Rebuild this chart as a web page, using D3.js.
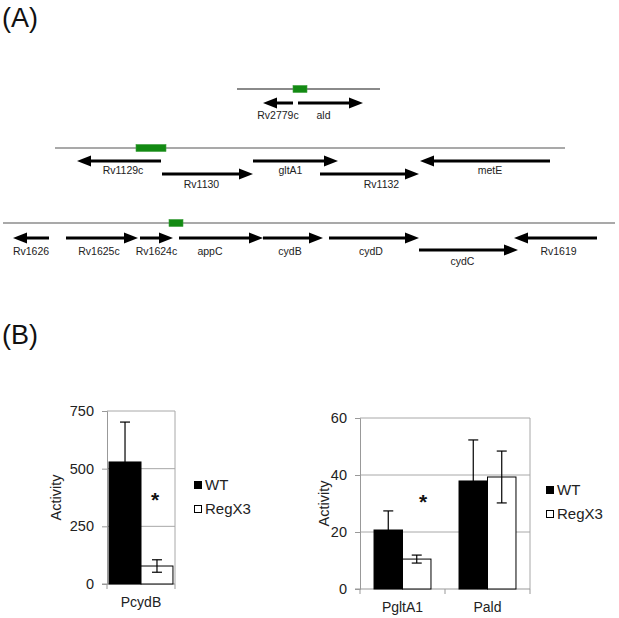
<!DOCTYPE html>
<html>
<head>
<meta charset="utf-8">
<script src="https://cdn.jsdelivr.net/npm/d3@7"></script>
<style>
  body { margin: 0; background: #fff; }
  text { font-family: "Liberation Sans", Arial, sans-serif; }
</style>
</head>
<body>
<svg width="619" height="618"></svg>
<script>
// ---- gene map data (map units along each locus) ----
var locus1Span = [237, 380], locus1Box = [293, 307];
var locus1Genes = [
  { name: "Rv2779c", start: 263, end: 293, strand: -1, lane: 0 },
  { name: "ald",     start: 298, end: 363, strand:  1, lane: 0 }
];
var locus2Span = [55, 565], locus2Box = [136, 166];
var locus2Genes = [
  { name: "Rv1129c", start: 77,  end: 161, strand: -1, lane: 0 },
  { name: "Rv1130",  start: 162, end: 253, strand:  1, lane: 1 },
  { name: "gltA1",   start: 253, end: 338, strand:  1, lane: 0 },
  { name: "Rv1132",  start: 320, end: 419, strand:  1, lane: 1 },
  { name: "metE",    start: 420, end: 550, strand: -1, lane: 0 }
];
var locus3Span = [3, 615], locus3Box = [169, 183];
var locus3Genes = [
  { name: "Rv1626",  start: 13,  end: 49,  strand: -1, lane: 0 },
  { name: "Rv1625c", start: 66,  end: 138, strand:  1, lane: 0 },
  { name: "Rv1624c", start: 140, end: 173, strand:  1, lane: 0 },
  { name: "appC",    start: 179, end: 263, strand:  1, lane: 0 },
  { name: "cydB",    start: 263, end: 323, strand:  1, lane: 0 },
  { name: "cydD",    start: 329, end: 419, strand:  1, lane: 0 },
  { name: "cydC",    start: 419, end: 518, strand:  1, lane: 1 },
  { name: "Rv1619",  start: 514, end: 597, strand: -1, lane: 0 }
];

// ---- bar chart data ----
var series = ["WT", "RegX3"];
var cydCategories = ["PcydB"];
var cydWT = [529], cydWTErr = [173];
var cydRegX3 = [78], cydRegX3Err = [27];
var cydTicks = [0, 250, 500, 750];

var gltCategories = ["PgltA1", "Pald"];
var gltWT = [20.7, 37.9], gltWTErr = [6.7, 14.4];
var gltRegX3 = [10.5, 39.3], gltRegX3Err = [1.4, 9.1];
var gltTicks = [0, 20, 40, 60];

var svg = d3.select("svg");
var green = "#138a13";

// panel labels
svg.append("text").text("(A)").attr("x", 2).attr("y", 27)
  .attr("font-size", "27px").attr("fill", "#111");
svg.append("text").text("(B)").attr("x", 2).attr("y", 344)
  .attr("font-size", "27px").attr("fill", "#111");

// ---- gene map ----
var xMap = d3.scaleLinear().domain([0, 619]).range([0, 619]);
var headLen = 14, headHalf = 5.5;

// small label nudges, layout only
var labelNudge = { ald: -7, Rv1130: -6, gltA1: -5, Rv1132: 12, metE: 5,
                   Rv1625c: -3, appC: -11, cydB: -3, cydD: -3, cydC: -6, Rv1619: 3, Rv1129c: 4 };

function drawLocus(genes, span, box, lay) {
  var g = svg.append("g");
  g.append("line")
    .attr("x1", xMap(span[0])).attr("x2", xMap(span[1]))
    .attr("y1", lay.lineY).attr("y2", lay.lineY)
    .attr("stroke", lay.lineColor).attr("stroke-width", lay.lineWidth);
  g.append("rect")
    .attr("x", xMap(box[0])).attr("width", xMap(box[1]) - xMap(box[0]))
    .attr("y", lay.lineY - lay.boxH / 2).attr("height", lay.boxH)
    .attr("fill", green).attr("stroke", "#3c9e3c").attr("stroke-width", 0.6);

  var gg = g.selectAll("g.gene").data(genes).enter().append("g").attr("class", "gene");
  gg.each(function (d) {
    var sel = d3.select(this);
    var y = lay.laneY[d.lane];
    var tail = d.strand > 0 ? xMap(d.start) : xMap(d.end);
    var tip = d.strand > 0 ? xMap(d.end) : xMap(d.start);
    var base = tip - d.strand * headLen;
    sel.append("line").attr("x1", tail).attr("x2", base + d.strand * 1)
      .attr("y1", y).attr("y2", y)
      .attr("stroke", "#000").attr("stroke-width", 3);
    sel.append("path")
      .attr("d", "M" + tip + "," + y + "L" + base + "," + (y - headHalf) +
                 "L" + base + "," + (y + headHalf) + "Z")
      .attr("fill", "#000");
    sel.append("text")
      .attr("x", (xMap(d.start) + xMap(d.end)) / 2 + (labelNudge[d.name] || 0))
      .attr("y", y + lay.labelDy[d.lane])
      .attr("dy", "0.35em")
      .attr("text-anchor", "middle")
      .attr("font-size", "10.5px").attr("fill", "#222")
      .text(d.name);
  });
}

drawLocus(locus1Genes, locus1Span, locus1Box,
  { lineY: 89, lineColor: "#8a8a8a", lineWidth: 2, boxH: 7, laneY: [103], labelDy: [12.5] });
drawLocus(locus2Genes, locus2Span, locus2Box,
  { lineY: 148, lineColor: "#555", lineWidth: 1.2, boxH: 7, laneY: [161, 174], labelDy: [9.5, 10] });
drawLocus(locus3Genes, locus3Span, locus3Box,
  { lineY: 223, lineColor: "#555", lineWidth: 1.2, boxH: 7, laneY: [238, 250], labelDy: [13.5, 11] });

// ---- bar charts ----
function barChart(cfg) {
  var g = svg.append("g");
  var y = d3.scaleLinear().domain([0, d3.max(cfg.ticks)]).range([cfg.y0, cfg.y1]);
  var xCat = d3.scaleBand().domain(cfg.categories).range([cfg.x0, cfg.x1]).padding(0);
  var xSer = d3.scaleBand().domain(series)
    .range([cfg.gap * xCat.bandwidth(), (1 - cfg.gap) * xCat.bandwidth()]).padding(0);
  var gridC = "#a8a8a8";

  // gridlines and frame
  g.selectAll("line.grid").data(cfg.ticks.slice(1)).enter().append("line")
    .attr("x1", cfg.x0).attr("x2", cfg.x1)
    .attr("y1", function (d) { return y(d); }).attr("y2", function (d) { return y(d); })
    .attr("stroke", gridC).attr("stroke-width", 1);
  g.append("line").attr("x1", cfg.x1).attr("x2", cfg.x1)
    .attr("y1", cfg.y0).attr("y2", cfg.y1).attr("stroke", gridC);

  // left axis
  var ax = g.append("g").attr("transform", "translate(" + cfg.x0 + ",0)")
    .call(d3.axisLeft(y).tickValues(cfg.ticks).tickSize(5).tickPadding(8));
  ax.select(".domain").attr("stroke", "#999");
  ax.selectAll(".tick line").attr("stroke", "#999");
  ax.selectAll(".tick text").attr("font-size", "14.5px").attr("fill", "#222")
    .attr("font-family", "Liberation Sans, Arial, sans-serif");

  // bottom axis with boundary ticks
  g.append("line").attr("x1", cfg.x0 - 5).attr("x2", cfg.x1)
    .attr("y1", cfg.y0).attr("y2", cfg.y0).attr("stroke", "#999");
  var bounds = cfg.categories.map(function (c) { return xCat(c); }).concat([cfg.x1]);
  g.selectAll("line.btick").data(bounds).enter().append("line")
    .attr("x1", function (d) { return d; }).attr("x2", function (d) { return d; })
    .attr("y1", cfg.y0).attr("y2", cfg.y0 + 5).attr("stroke", "#999");
  g.selectAll("text.cat").data(cfg.categories).enter().append("text")
    .attr("x", function (d) { return xCat(d) + xCat.bandwidth() / 2; })
    .attr("y", cfg.y0 + 18).attr("dy", "0.35em")
    .attr("text-anchor", "middle").attr("font-size", "14px").attr("fill", "#222")
    .text(function (d) { return d; });

  // bars
  var rows = [];
  cfg.categories.forEach(function (c, i) {
    rows.push({ cat: c, s: "WT", v: cfg.wt[i], e: cfg.wtErr[i] });
    rows.push({ cat: c, s: "RegX3", v: cfg.rx[i], e: cfg.rxErr[i] });
  });
  g.selectAll("rect.bar").data(rows).enter().append("rect")
    .attr("x", function (d) { return xCat(d.cat) + xSer(d.s); })
    .attr("width", xSer.bandwidth())
    .attr("y", function (d) { return y(d.v); })
    .attr("height", function (d) { return cfg.y0 - y(d.v); })
    .attr("fill", function (d) { return d.s === "WT" ? "#000" : "#fff"; })
    .attr("stroke", "#000").attr("stroke-width", 1);

  // error bars
  var eb = g.selectAll("g.err").data(rows).enter().append("g")
    .attr("transform", function (d) {
      return "translate(" + (xCat(d.cat) + xSer(d.s) + xSer.bandwidth() / 2) + ",0)";
    });
  eb.append("line").attr("y1", function (d) { return y(d.v - d.e); })
    .attr("y2", function (d) { return y(d.v + d.e); })
    .attr("stroke", "#000").attr("stroke-width", 1.2);
  eb.append("line").attr("x1", -5).attr("x2", 5)
    .attr("y1", function (d) { return y(d.v + d.e); }).attr("y2", function (d) { return y(d.v + d.e); })
    .attr("stroke", "#000").attr("stroke-width", 1.2);
  eb.append("line").attr("x1", -5).attr("x2", 5)
    .attr("y1", function (d) { return y(d.v - d.e); }).attr("y2", function (d) { return y(d.v - d.e); })
    .attr("stroke", "#000").attr("stroke-width", 1.2);

  // y title
  g.append("text")
    .attr("transform", "translate(" + cfg.titleX + "," + (cfg.y0 + cfg.y1) / 2 + ") rotate(-90)")
    .attr("text-anchor", "middle").attr("dy", "0.35em")
    .attr("font-size", "14.5px").attr("fill", "#222").text("Activity");

  // significance star
  g.append("text").attr("x", cfg.star[0]).attr("y", cfg.star[1])
    .attr("text-anchor", "middle").attr("dy", "0.6em")
    .attr("font-size", "21px").attr("font-weight", "bold").attr("fill", "#111").text("*");

  // legend
  var lg = g.selectAll("g.leg").data(series).enter().append("g")
    .attr("transform", function (d, i) {
      return "translate(" + cfg.legX + "," + (cfg.legY + i * 24) + ")";
    });
  lg.append("rect").attr("x", 0.5).attr("y", -3.5).attr("width", 7).attr("height", 7)
    .attr("fill", function (d) { return d === "WT" ? "#000" : "#fff"; })
    .attr("stroke", "#000").attr("stroke-width", 1);
  lg.append("text").attr("x", 11).attr("dy", "0.36em")
    .attr("font-size", "15px").attr("fill", "#222").text(function (d) { return d; });
}

barChart({
  categories: cydCategories, wt: cydWT, wtErr: cydWTErr, rx: cydRegX3, rxErr: cydRegX3Err,
  ticks: cydTicks, x0: 107, x1: 175, y0: 584, y1: 411, gap: 0.03,
  titleX: 56, star: [155, 494], legX: 194, legY: 485
});
barChart({
  categories: gltCategories, wt: gltWT, wtErr: gltWTErr, rx: gltRegX3, rxErr: gltRegX3Err,
  ticks: gltTicks, x0: 360, x1: 530, y0: 589, y1: 418, gap: 0.165,
  titleX: 324, star: [423, 496], legX: 546, legY: 490
});
</script>
</body>
</html>
